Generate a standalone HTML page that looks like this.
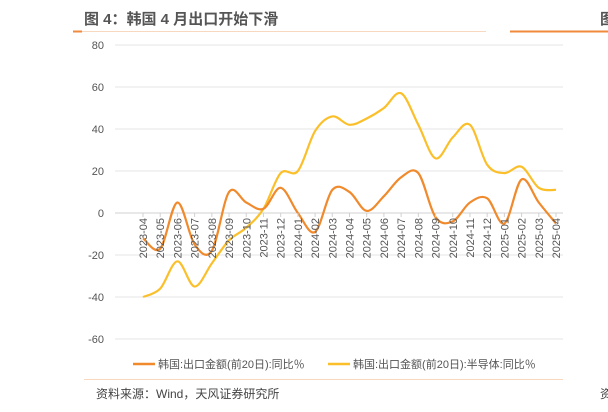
<!DOCTYPE html>
<html><head><meta charset="utf-8"><style>
body{margin:0;width:608px;height:412px;background:#fff;overflow:hidden;font-family:"Liberation Sans","Noto Sans CJK SC",sans-serif}
</style></head><body>
<svg width="608" height="412" style="position:absolute;left:0;top:0">
<text x="84" y="24" font-size="15" font-weight="bold" fill="#555" font-family="Liberation Sans,Noto Sans CJK SC,sans-serif">图 4：韩国 4 月出口开始下滑</text>
<text x="600" y="24" font-size="15" font-weight="bold" fill="#555" font-family="Liberation Sans,Noto Sans CJK SC,sans-serif">图</text>
<line x1="73" y1="31.5" x2="486" y2="31.5" stroke="#f8d9c0" stroke-width="1"/>
<line x1="73" y1="31.5" x2="82" y2="31.5" stroke="#f08a3c" stroke-width="2"/>
<line x1="510" y1="31.5" x2="608" y2="31.5" stroke="#f08a3c" stroke-width="2"/>
<g id="grid"></g><g id="lines"></g><g id="xl"></g>
<g>
<line x1="133" y1="364" x2="155" y2="364" stroke="#f08a2c" stroke-width="2.5"/>
<text x="158" y="368" font-size="11" fill="#555">韩国:出口金额(前20日):同比％</text>
<line x1="328" y1="364" x2="350" y2="364" stroke="#fbbf2a" stroke-width="2.5"/>
<text x="353" y="368" font-size="11" fill="#555">韩国:出口金额(前20日):半导体:同比％</text>
</g>
<line x1="84" y1="379.5" x2="563" y2="379.5" stroke="#f8d9c0"/>
<text x="96" y="398" font-size="12" fill="#444">资料来源：Wind，天风证券研究所</text>
<text x="600" y="398" font-size="12" fill="#444">资</text>
</svg>
<script>
const categories=["2023-04","2023-05","2023-06","2023-07","2023-08","2023-09","2023-10","2023-11","2023-12","2024-01","2024-02","2024-03","2024-04","2024-05","2024-06","2024-07","2024-08","2024-09","2024-10","2024-11","2024-12","2025-01","2025-02","2025-03","2025-04"];
const exportsYoY=[-12,-17,5,-15,-18,10,5,2,12,0,-9,11,10,1,8,17,19,-2,-4,5,7,-5,16,5,-5];
const semisYoY=[-40,-36,-23,-35,-24,-13,-7,2,19,20,39,46,42,45,50,57,42,26,36,42,23,19,22,12,11];
const yTicks=[80,60,40,20,0,-20,-40,-60];
const NS="http://www.w3.org/2000/svg";
const x=i=>143+i*(556-143)/(categories.length-1);
const y=v=>213-v*2.1;
function mk(t,a,p){const e=document.createElementNS(NS,t);for(const k in a)e.setAttribute(k,a[k]);p.appendChild(e);return e;}
const grid=document.getElementById('grid');
yTicks.forEach(v=>{
 const l=mk('line',{x1:115,x2:563,y1:y(v),y2:y(v),stroke:v===0?'#d0d0d0':'#e6e6e6','stroke-width':1},grid);
 
 
 const t=mk('text',{x:104,y:y(v)+4,'font-size':11,fill:'#555','text-anchor':'end'},grid);t.textContent=v;
 
 
});
const xl=document.getElementById('xl');
categories.forEach((c,i)=>{
 const tk=mk('line',{x1:x(i),x2:x(i),y1:213,y2:217,stroke:'#d0d0d0'},xl);
 
 
 const t=mk('text',{transform:`translate(${x(i)+4},${218}) rotate(-90)`,'font-size':11,fill:'#555','text-anchor':'end'},xl);t.textContent=c;
 
 
});
function path(vals){
 const p=vals.map((v,i)=>[x(i),y(v)]);let d=`M${p[0][0]},${p[0][1]}`;
 for(let i=0;i<p.length-1;i++){const p0=p[i-1]||p[i],p1=p[i],p2=p[i+1],p3=p[i+2]||p2;
  d+=` C${p1[0]+(p2[0]-p0[0])/6},${p1[1]+(p2[1]-p0[1])/6} ${p2[0]-(p3[0]-p1[0])/6},${p2[1]-(p3[1]-p1[1])/6} ${p2[0]},${p2[1]}`;}
 return d;}
const lines=document.getElementById('lines');
const s2=mk('path',{d:path(semisYoY),fill:'none',stroke:'#fbbf2a','stroke-width':2.2},lines);


const s1=mk('path',{d:path(exportsYoY),fill:'none',stroke:'#f08a2c','stroke-width':2.2},lines);


</script>
</body></html>
